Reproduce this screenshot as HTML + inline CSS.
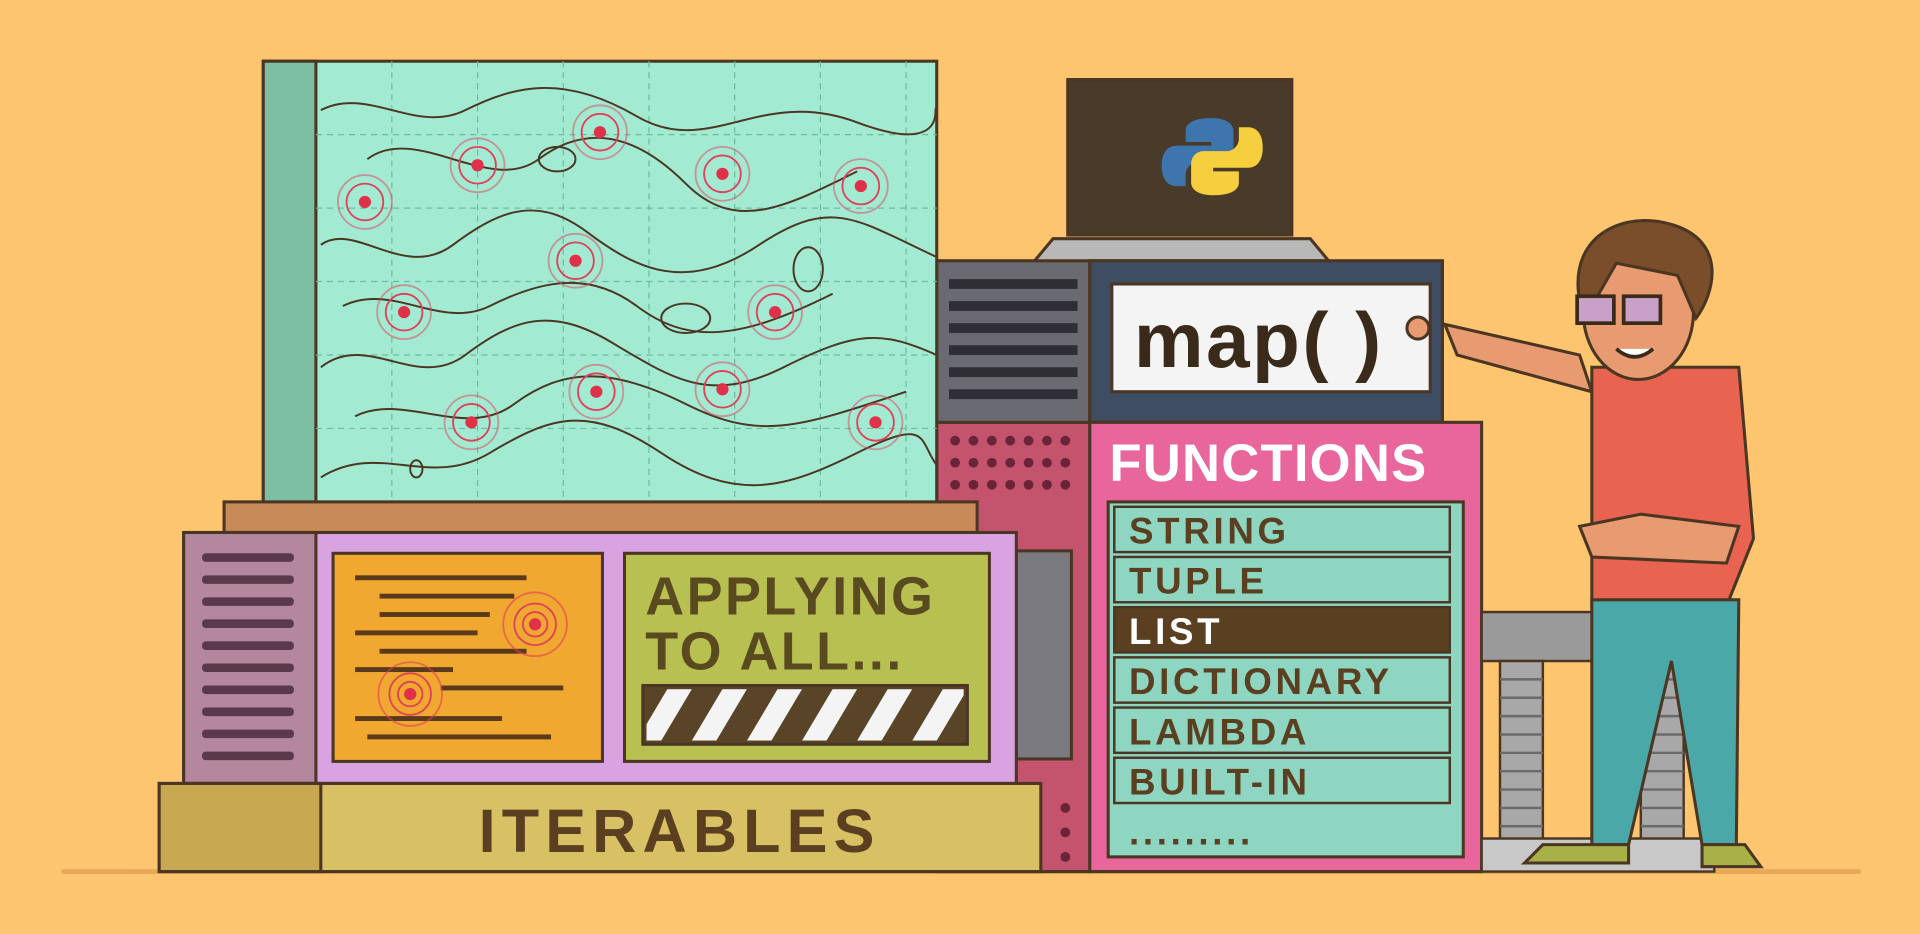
<!DOCTYPE html>
<html><head><meta charset="utf-8"><style>
html,body{margin:0;padding:0;background:#fdc56f;}
svg{display:block}
text{font-family:"Liberation Sans","DejaVu Sans",sans-serif;font-weight:bold}
</style></head><body>
<svg width="1920" height="934" viewBox="0 0 1568 763" preserveAspectRatio="none" xmlns="http://www.w3.org/2000/svg">
<rect width="1568" height="763" fill="#fdc56f"/>
<rect x="50" y="710" width="1470" height="4" fill="#e8a858" rx="2"/>
<g stroke="#4a3622" stroke-width="2.5">
<!-- pink dotted tower (behind) -->
<rect x="765" y="345" width="125" height="367" fill="#c4536e"/>
<rect x="765" y="213" width="125" height="132" fill="#6a6a72"/>
<rect x="830" y="450" width="45" height="170" fill="#7a7a80"/>
<!-- big map panel -->
<rect x="215" y="50" width="550" height="362" fill="#a3ead3"/>
<rect x="215" y="50" width="43" height="362" fill="#7dbfa3"/>
</g>
<g stroke="#6dbca0" stroke-width="1" stroke-dasharray="5 4" fill="none">
<path d="M258 110H765M258 170H765M258 230H765M258 290H765M258 350H765M320 50V410M390 50V410M460 50V410M530 50V410M600 50V410M670 50V410M740 50V410"/>
</g>
<g fill="none" stroke="#4a3622" stroke-width="1.6">
<path d="M262 90C300 70 340 110 380 90S460 60 520 95 620 70 700 100 760 80 765 90"/>
<path d="M262 200C290 180 330 230 370 200S440 160 480 190 560 240 620 200 700 180 765 210"/>
<path d="M262 300C300 270 340 320 380 290S450 250 500 280 580 330 640 300 720 270 765 290"/>
<path d="M262 390C310 360 350 400 400 370S480 330 540 370 640 400 700 370 750 360 765 380"/>
<path d="M300 130C340 100 400 160 440 130S520 110 560 150 640 170 700 140"/>
<path d="M280 250C320 230 360 270 400 250S480 220 520 250 600 280 680 240"/>
<path d="M290 340C330 320 380 360 420 330S500 300 560 330 650 350 740 320"/>
<ellipse cx="455" cy="130" rx="15" ry="10"/><ellipse cx="660" cy="220" rx="12" ry="18"/><ellipse cx="340" cy="383" rx="5" ry="7"/><ellipse cx="560" cy="260" rx="20" ry="12"/>
</g>
<g stroke="#4a3622" stroke-width="2.5">
<rect x="183" y="410" width="615" height="25" fill="#c98a5a"/>
<rect x="150" y="435" width="680" height="205" fill="#d9a2e0"/>
<rect x="150" y="435" width="108" height="205" fill="#b4879f"/>
<rect x="272" y="452" width="220" height="170" fill="#f0a830"/>
<rect x="510" y="452" width="298" height="170" fill="#b8c052"/>
<rect x="525" y="560" width="265" height="48" fill="#5a4428"/>
<rect x="130" y="640" width="720" height="72" fill="#d8c064"/>
<rect x="130" y="640" width="132" height="72" fill="#c8a850"/>
<!-- monitor -->
<rect x="872" y="65" width="183" height="127" fill="#4a3a2a"/>
<path d="M845 213L860 195H1070L1085 213Z" fill="#b8b8b8"/>
<rect x="890" y="213" width="288" height="132" fill="#3f4d62"/>
<rect x="908" y="232" width="260" height="88" fill="#f4f4f4"/>
<rect x="890" y="345" width="320" height="367" fill="#e8669b"/>
<rect x="905" y="410" width="290" height="290" fill="#8fd6c2"/>
</g>
<g fill="#5a3a4a">
<rect x="165" y="452" width="75" height="7" rx="3"/><rect x="165" y="470" width="75" height="7" rx="3"/><rect x="165" y="488" width="75" height="7" rx="3"/><rect x="165" y="506" width="75" height="7" rx="3"/><rect x="165" y="524" width="75" height="7" rx="3"/><rect x="165" y="542" width="75" height="7" rx="3"/><rect x="165" y="560" width="75" height="7" rx="3"/><rect x="165" y="578" width="75" height="7" rx="3"/><rect x="165" y="596" width="75" height="7" rx="3"/><rect x="165" y="614" width="75" height="7" rx="3"/>
</g>
<g fill="#2e2e34">
<rect x="775" y="228" width="105" height="8"/><rect x="775" y="246" width="105" height="8"/><rect x="775" y="264" width="105" height="8"/><rect x="775" y="282" width="105" height="8"/><rect x="775" y="300" width="105" height="8"/><rect x="775" y="318" width="105" height="8"/>
</g>
<g fill="#6a2438">
<circle cx="780" cy="360" r="4"/><circle cx="795" cy="360" r="4"/><circle cx="810" cy="360" r="4"/><circle cx="825" cy="360" r="4"/><circle cx="840" cy="360" r="4"/><circle cx="855" cy="360" r="4"/><circle cx="870" cy="360" r="4"/>
<circle cx="780" cy="378" r="4"/><circle cx="795" cy="378" r="4"/><circle cx="810" cy="378" r="4"/><circle cx="825" cy="378" r="4"/><circle cx="840" cy="378" r="4"/><circle cx="855" cy="378" r="4"/><circle cx="870" cy="378" r="4"/>
<circle cx="780" cy="396" r="4"/><circle cx="795" cy="396" r="4"/><circle cx="810" cy="396" r="4"/><circle cx="825" cy="396" r="4"/><circle cx="840" cy="396" r="4"/><circle cx="855" cy="396" r="4"/><circle cx="870" cy="396" r="4"/>
<circle cx="870" cy="660" r="4"/><circle cx="870" cy="680" r="4"/><circle cx="870" cy="700" r="4"/>
</g>
<g fill="#5a3a1a">
<rect x="290" y="470" width="140" height="4"/><rect x="310" y="485" width="110" height="4"/><rect x="310" y="500" width="90" height="4"/><rect x="290" y="515" width="100" height="4"/><rect x="310" y="530" width="120" height="4"/><rect x="290" y="545" width="80" height="4"/><rect x="360" y="560" width="100" height="4"/><rect x="290" y="585" width="120" height="4"/><rect x="300" y="600" width="150" height="4"/>
</g>
<g fill="none" stroke="#e0405a" stroke-width="1.5">
<circle cx="298" cy="165" r="22" opacity=".5"/><circle cx="298" cy="165" r="15"/>
<circle cx="390" cy="135" r="22" opacity=".5"/><circle cx="390" cy="135" r="15"/>
<circle cx="490" cy="108" r="22" opacity=".5"/><circle cx="490" cy="108" r="15"/>
<circle cx="590" cy="142" r="22" opacity=".5"/><circle cx="590" cy="142" r="15"/>
<circle cx="703" cy="152" r="22" opacity=".5"/><circle cx="703" cy="152" r="15"/>
<circle cx="470" cy="213" r="22" opacity=".5"/><circle cx="470" cy="213" r="15"/>
<circle cx="330" cy="255" r="22" opacity=".5"/><circle cx="330" cy="255" r="15"/>
<circle cx="633" cy="255" r="22" opacity=".5"/><circle cx="633" cy="255" r="15"/>
<circle cx="487" cy="320" r="22" opacity=".5"/><circle cx="487" cy="320" r="15"/>
<circle cx="590" cy="318" r="22" opacity=".5"/><circle cx="590" cy="318" r="15"/>
<circle cx="385" cy="345" r="22" opacity=".5"/><circle cx="385" cy="345" r="15"/>
<circle cx="715" cy="345" r="22" opacity=".5"/><circle cx="715" cy="345" r="15"/>
<circle cx="437" cy="510" r="26" opacity=".6"/><circle cx="437" cy="510" r="17"/><circle cx="437" cy="510" r="10"/>
<circle cx="335" cy="567" r="26" opacity=".6"/><circle cx="335" cy="567" r="17"/><circle cx="335" cy="567" r="10"/>
</g>
<g fill="#e0304a">
<circle cx="298" cy="165" r="5"/><circle cx="390" cy="135" r="5"/><circle cx="490" cy="108" r="5"/><circle cx="590" cy="142" r="5"/><circle cx="703" cy="152" r="5"/><circle cx="470" cy="213" r="5"/><circle cx="330" cy="255" r="5"/><circle cx="633" cy="255" r="5"/><circle cx="487" cy="320" r="5"/><circle cx="590" cy="318" r="5"/><circle cx="385" cy="345" r="5"/><circle cx="715" cy="345" r="5"/><circle cx="437" cy="510" r="5"/><circle cx="335" cy="567" r="5"/>
</g>
<clipPath id="cb"><rect x="528" y="563" width="259" height="42"/></clipPath>
<g clip-path="url(#cb)" fill="#f4f4f4">
<path d="M520 605l25-42h20l-25 42zM565 605l25-42h20l-25 42zM610 605l25-42h20l-25 42zM655 605l25-42h20l-25 42zM700 605l25-42h20l-25 42zM745 605l25-42h20l-25 42z"/>
</g>
<g transform="translate(990 128) scale(0.75) translate(-1006 -130)">
<path d="M1005 88c-20 0-28 6-28 14v12h28v4h-38c-10 0-16 8-16 22s6 22 16 22h10v-12c0-8 6-14 14-14h24c8 0 14-6 14-14v-20c0-8-8-14-24-14z" fill="#3d76ad"/>
<path d="M1007 172c20 0 28-6 28-14v-12h-28v-4h38c10 0 16-8 16-22s-6-22-16-22h-10v12c0 8-6 14-14 14h-24c-8 0-14 6-14 14v20c0 8 8 14 24 14z" fill="#f5cf3d"/>
</g>
<text x="926" y="300" font-size="64" fill="#3a2a1a" letter-spacing="2">map( )</text>
<text x="906" y="393" font-size="43" fill="#fff" letter-spacing="1">FUNCTIONS</text>
<g stroke="#4a3622" stroke-width="2" fill="#8fd6c2">
<rect x="910" y="414" width="274" height="37"/><rect x="910" y="455" width="274" height="37"/><rect x="910" y="496" width="274" height="37" fill="#5a4020"/><rect x="910" y="537" width="274" height="37"/><rect x="910" y="578" width="274" height="37"/><rect x="910" y="619" width="274" height="37"/>
</g>
<g font-size="30" fill="#5a4020" letter-spacing="3">
<text x="922" y="444">STRING</text><text x="922" y="485">TUPLE</text><text x="922" y="526" fill="#fff">LIST</text><text x="922" y="567">DICTIONARY</text><text x="922" y="608">LAMBDA</text><text x="922" y="649">BUILT-IN</text><text x="922" y="690">.........</text>
</g>
<g font-size="44" fill="#5a4a20" letter-spacing="2"><text x="527" y="502">APPLYING</text><text x="527" y="547">TO ALL...</text></g>
<text x="555" y="696" font-size="50" fill="#5a4020" text-anchor="middle" letter-spacing="5">ITERABLES</text>
<g stroke="#4a3622" stroke-width="2">
<rect x="1210" y="500" width="190" height="40" fill="#9a9a9a"/>
<rect x="1225" y="540" width="35" height="150" fill="#a8a8a8"/>
<rect x="1340" y="540" width="35" height="150" fill="#a8a8a8"/>
<rect x="1210" y="685" width="190" height="27" fill="#c8c8c8"/>
</g>
<g stroke="#6a6a6a" stroke-width="2">
<path d="M1225 555h35M1225 570h35M1225 585h35M1225 600h35M1225 615h35M1225 630h35M1225 645h35M1225 660h35M1225 675h35M1340 555h35M1340 570h35M1340 585h35M1340 600h35M1340 615h35M1340 630h35M1340 645h35M1340 660h35M1340 675h35"/>
</g>
<g stroke="#4a3622" stroke-width="2.5">
<path d="M1180 265L1290 290 1300 320 1190 290Z" fill="#e89a70"/>
<path d="M1300 300H1420L1432 440 1410 495H1300Z" fill="#e86450"/>
<path d="M1300 490H1420L1418 690H1390L1365 540 1330 690H1300Z" fill="#4aa8a8"/>
<path d="M1260 690H1330V705H1245Z" fill="#a8b048"/>
<path d="M1390 690H1425L1438 708H1390Z" fill="#a8b048"/>
<ellipse cx="1338" cy="255" rx="45" ry="55" fill="#e89a70"/>
<path d="M1290 245C1280 190 1330 170 1370 185S1400 240 1385 260L1370 225 1320 215 1300 250Z" fill="#7a4e2a"/>
<path d="M1290 430L1340 420 1420 430 1410 460 1300 455Z" fill="#e89a70"/>
<circle cx="1158" cy="268" r="9" fill="#e89a70"/>
</g>
<g fill="#c9a0c8" stroke="#3a2a1a" stroke-width="3"><rect x="1288" y="242" width="30" height="22"/><rect x="1326" y="242" width="30" height="22"/></g>
<path d="M1320 285Q1335 298 1350 285" stroke="#3a2a1a" stroke-width="3" fill="#fff"/>
</svg>
</body></html>
